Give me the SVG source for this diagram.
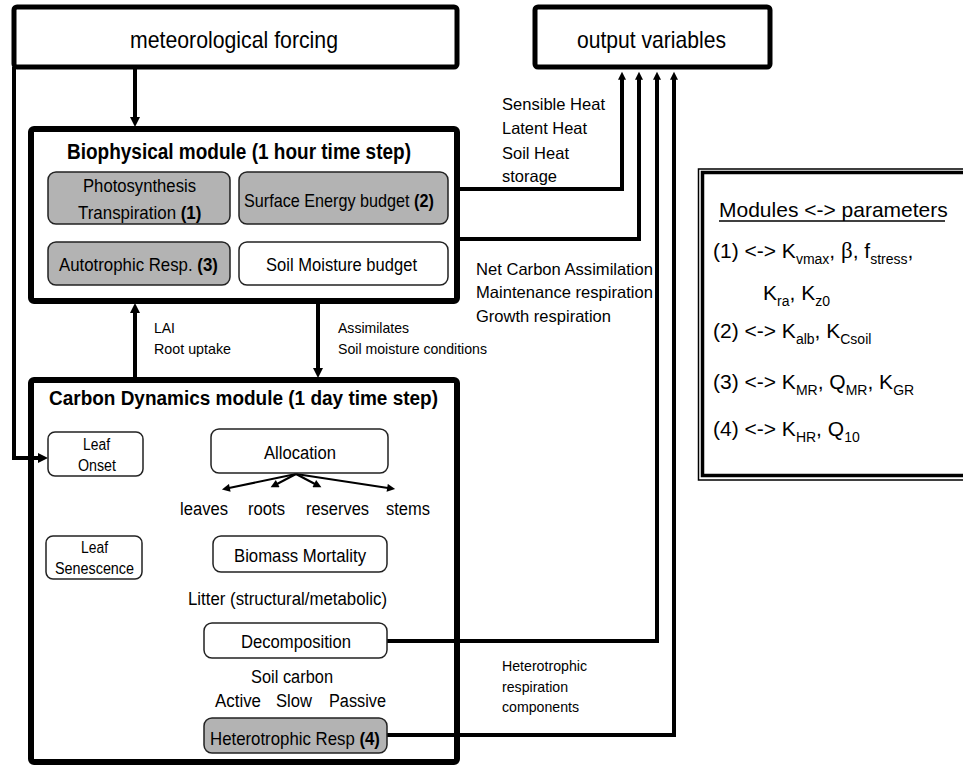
<svg xmlns="http://www.w3.org/2000/svg" width="963" height="766" viewBox="0 0 963 766">
<defs>
<style>
text{font-family:"Liberation Sans",Arial,sans-serif;fill:#000}
.big{stroke:#000;fill:#fff}
.nd{stroke:#222;stroke-width:1.5;fill:#fff}
.gr{fill:#b3b3b3}
.cn{fill:none;stroke:#000;stroke-width:4}
.al{fill:none;stroke:#000;stroke-width:2}
.b{font-weight:bold}
.pt{font-size:21px}
.sb{font-size:14px}
</style>
<marker id="ah" viewBox="0 0 10 10" refX="1" refY="5" markerWidth="10" markerHeight="12" markerUnits="userSpaceOnUse" orient="auto"><path d="M0,0 L10,5 L0,10 z" fill="#000"/></marker>
<marker id="as" viewBox="0 0 10 10" refX="1" refY="5" markerWidth="9" markerHeight="8" markerUnits="userSpaceOnUse" orient="auto"><path d="M0,0 L10,5 L0,10 z" fill="#000"/></marker>
<marker id="aa" viewBox="0 0 10 10" refX="1" refY="5" markerWidth="10" markerHeight="8" markerUnits="userSpaceOnUse" orient="auto"><path d="M0,0 L10,5 L0,10 z" fill="#000"/></marker>
</defs>

<g id="forcing">
<rect class="big" x="14" y="7" width="443" height="60" rx="3" stroke-width="5"/>
<text x="130" y="48" font-size="24" textLength="208" lengthAdjust="spacingAndGlyphs">meteorological forcing</text>
</g>

<g id="output">
<rect class="big" x="535" y="7" width="235" height="60" rx="3" stroke-width="5"/>
<text x="577" y="48" font-size="24" textLength="149" lengthAdjust="spacingAndGlyphs">output variables</text>
</g>

<g id="biophysical">
<rect class="big" x="31" y="129" width="426" height="172" rx="3" stroke-width="6"/>
<text class="b" x="67" y="159" font-size="22" textLength="344" lengthAdjust="spacingAndGlyphs">Biophysical module (1 hour time step)</text>
</g>

<g id="carbon">
<rect class="big" x="31" y="380" width="426" height="382" rx="3" stroke-width="6"/>
<text class="b" x="49" y="405" font-size="20" textLength="389" lengthAdjust="spacingAndGlyphs">Carbon Dynamics module (1 day time step)</text>
</g>

<g id="connectors">
<path class="cn" d="M135,67 V118" marker-end="url(#ah)"/>
<path class="cn" d="M14,67 V458 H39" marker-end="url(#ah)"/>
<path class="cn" d="M135,380 V312" marker-end="url(#ah)"/>
<path class="cn" d="M318,301 V369" marker-end="url(#ah)"/>
<path class="cn" d="M457,189 H622 V79" marker-end="url(#as)"/>
<path class="cn" d="M457,239 H639 V79" marker-end="url(#as)"/>
<path class="cn" d="M387,641 H657 V79" marker-end="url(#as)"/>
<path class="cn" d="M387,735 H674 V79" marker-end="url(#as)"/>
<path class="al" d="M296,474 L229,488" marker-end="url(#aa)"/>
<path class="al" d="M296,474 L277,484" marker-end="url(#aa)"/>
<path class="al" d="M296,474 L315,484" marker-end="url(#aa)"/>
<path class="al" d="M296,474 L388,488" marker-end="url(#aa)"/>
</g>

<g id="photosynthesis">
<rect class="nd gr" x="48" y="172" width="182" height="52" rx="8"/>
<text x="83" y="192" font-size="18" textLength="113" lengthAdjust="spacingAndGlyphs">Photosynthesis</text>
<text transform="translate(78,219) scale(0.94,1)" font-size="18">Transpiration <tspan class="b">(1)</tspan></text>
</g>

<g id="surface-energy">
<rect class="nd gr" x="239" y="172" width="209" height="52" rx="8"/>
<text transform="translate(244,207) scale(0.9,1)" font-size="18">Surface Energy budget <tspan class="b">(2)</tspan></text>
</g>

<g id="autotrophic">
<rect class="nd gr" x="48" y="242" width="182" height="43" rx="8"/>
<text transform="translate(59,271) scale(0.935,1)" font-size="18">Autotrophic Resp. <tspan class="b">(3)</tspan></text>
</g>

<g id="soil-moisture">
<rect class="nd" x="239" y="242" width="209" height="43" rx="8"/>
<text x="266" y="271" font-size="18" textLength="151" lengthAdjust="spacingAndGlyphs">Soil Moisture budget</text>
</g>

<g id="labels">
<text x="154" y="333" font-size="15" textLength="21" lengthAdjust="spacingAndGlyphs">LAI</text>
<text x="154" y="354" font-size="15" textLength="77" lengthAdjust="spacingAndGlyphs">Root uptake</text>
<text x="338" y="333" font-size="15" textLength="71" lengthAdjust="spacingAndGlyphs">Assimilates</text>
<text x="338" y="354" font-size="15" textLength="149" lengthAdjust="spacingAndGlyphs">Soil moisture conditions</text>
<text x="502" y="110" font-size="16.5" textLength="103" lengthAdjust="spacingAndGlyphs">Sensible Heat</text>
<text x="502" y="134" font-size="16.5" textLength="85" lengthAdjust="spacingAndGlyphs">Latent Heat</text>
<text x="502" y="159" font-size="16.5" textLength="67" lengthAdjust="spacingAndGlyphs">Soil Heat</text>
<text x="502" y="182" font-size="16.5" textLength="55" lengthAdjust="spacingAndGlyphs">storage</text>
<text x="476" y="275" font-size="16.5" textLength="177" lengthAdjust="spacingAndGlyphs">Net Carbon Assimilation</text>
<text x="476" y="298" font-size="16.5" textLength="177" lengthAdjust="spacingAndGlyphs">Maintenance respiration</text>
<text x="476" y="322" font-size="16.5" textLength="135" lengthAdjust="spacingAndGlyphs">Growth respiration</text>
<text x="502" y="671" font-size="14.5" textLength="85" lengthAdjust="spacingAndGlyphs">Heterotrophic</text>
<text x="502" y="692" font-size="14.5" textLength="66" lengthAdjust="spacingAndGlyphs">respiration</text>
<text x="502" y="712" font-size="14.5" textLength="77" lengthAdjust="spacingAndGlyphs">components</text>
</g>

<g id="leaf-onset">
<rect class="nd" x="48" y="432" width="95" height="44" rx="7"/>
<text x="83" y="450" font-size="16" textLength="27" lengthAdjust="spacingAndGlyphs">Leaf</text>
<text x="78" y="471" font-size="16" textLength="38" lengthAdjust="spacingAndGlyphs">Onset</text>
</g>

<g id="leaf-senescence">
<rect class="nd" x="46" y="536" width="96" height="43" rx="7"/>
<text x="81" y="553" font-size="16" textLength="27" lengthAdjust="spacingAndGlyphs">Leaf</text>
<text x="55" y="574" font-size="16" textLength="79" lengthAdjust="spacingAndGlyphs">Senescence</text>
</g>

<g id="allocation">
<rect class="nd" x="211" y="429" width="177" height="44" rx="8"/>
<text x="264" y="459" font-size="18" textLength="72" lengthAdjust="spacingAndGlyphs">Allocation</text>
</g>

<g id="pools">
<text x="180" y="515" font-size="18" textLength="48" lengthAdjust="spacingAndGlyphs">leaves</text>
<text x="248" y="515" font-size="18" textLength="37" lengthAdjust="spacingAndGlyphs">roots</text>
<text x="306" y="515" font-size="18" textLength="63" lengthAdjust="spacingAndGlyphs">reserves</text>
<text x="386" y="515" font-size="18" textLength="44" lengthAdjust="spacingAndGlyphs">stems</text>
</g>

<g id="biomass-mortality">
<rect class="nd" x="213" y="536" width="174" height="36" rx="8"/>
<text x="234" y="562" font-size="18" textLength="132" lengthAdjust="spacingAndGlyphs">Biomass Mortality</text>
</g>

<g id="litter">
<text x="188" y="605" font-size="18" textLength="199" lengthAdjust="spacingAndGlyphs">Litter (structural/metabolic)</text>
</g>

<g id="decomposition">
<rect class="nd" x="204" y="623" width="183" height="35" rx="8"/>
<text x="241" y="648" font-size="18" textLength="110" lengthAdjust="spacingAndGlyphs">Decomposition</text>
</g>

<g id="soil-carbon">
<text x="251" y="683" font-size="18" textLength="82" lengthAdjust="spacingAndGlyphs">Soil carbon</text>
<text x="215" y="707" font-size="18" textLength="46" lengthAdjust="spacingAndGlyphs">Active</text>
<text x="276" y="707" font-size="18" textLength="36" lengthAdjust="spacingAndGlyphs">Slow</text>
<text x="329" y="707" font-size="18" textLength="57" lengthAdjust="spacingAndGlyphs">Passive</text>
</g>

<g id="heterotrophic-resp">
<rect class="nd gr" x="204" y="718" width="183" height="35" rx="8"/>
<text transform="translate(210,745) scale(0.934,1)" font-size="18">Heterotrophic Resp <tspan class="b">(4)</tspan></text>
</g>

<g id="parameters">
<rect x="698.5" y="169" width="300" height="311" fill="#fff" stroke="#000" stroke-width="1.5"/>
<rect x="702.5" y="172.5" width="300" height="303" fill="none" stroke="#000" stroke-width="3.5"/>
<text class="pt" x="719" y="217">Modules &lt;-&gt; parameters</text>
<line x1="719" y1="221" x2="945" y2="221" stroke="#000" stroke-width="1.5"/>
<text class="pt" x="713" y="258">(1) &lt;-&gt; K<tspan class="sb" dy="6">vmax</tspan><tspan dy="-6">, </tspan><tspan font-family="Liberation Serif" font-size="23">β</tspan>, f<tspan class="sb" dy="6">stress</tspan><tspan dy="-6">,</tspan></text>
<text class="pt" x="763" y="300">K<tspan class="sb" dy="6">ra</tspan><tspan dy="-6">, K</tspan><tspan class="sb" dy="6">z0</tspan></text>
<text class="pt" x="713" y="338">(2) &lt;-&gt; K<tspan class="sb" dy="6">alb</tspan><tspan dy="-6">, K</tspan><tspan class="sb" dy="6">Csoil</tspan></text>
<text class="pt" x="713" y="389">(3) &lt;-&gt; K<tspan class="sb" dy="6">MR</tspan><tspan dy="-6">, Q</tspan><tspan class="sb" dy="6">MR</tspan><tspan dy="-6">, K</tspan><tspan class="sb" dy="6">GR</tspan></text>
<text class="pt" x="713" y="436">(4) &lt;-&gt; K<tspan class="sb" dy="6">HR</tspan><tspan dy="-6">, Q</tspan><tspan class="sb" dy="6">10</tspan></text>
</g>
</svg>
